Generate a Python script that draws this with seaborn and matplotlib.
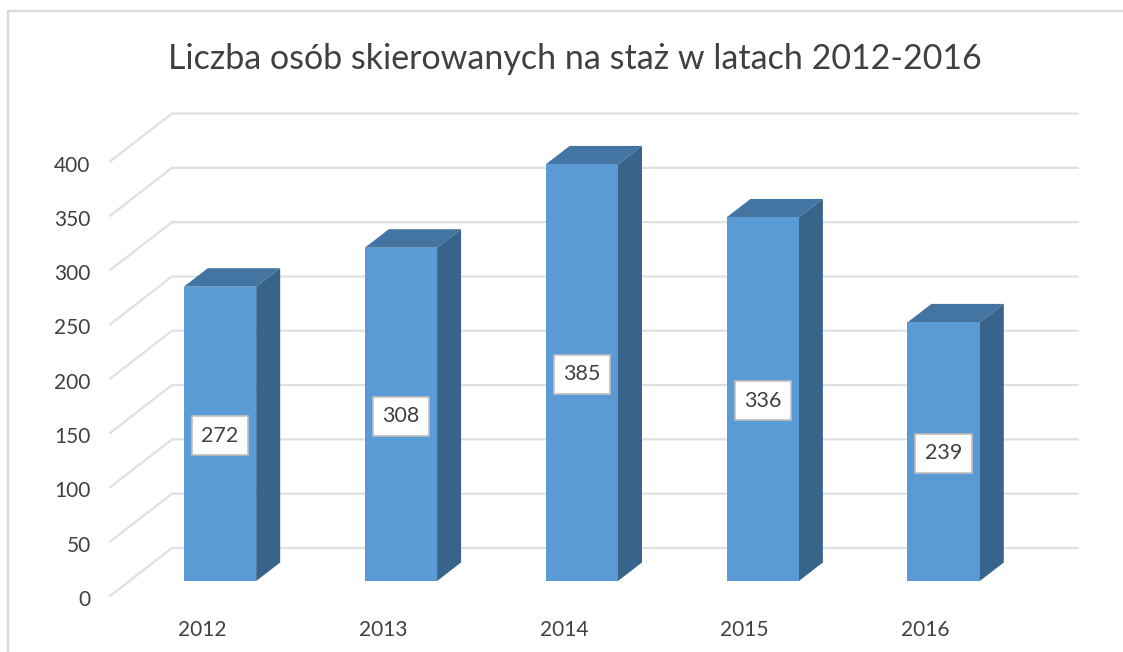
import matplotlib
matplotlib.use("Agg")
import matplotlib.pyplot as plt
from matplotlib.lines import Line2D
from matplotlib.patches import Polygon
from matplotlib.transforms import ScaledTranslation
import seaborn as sns
import pandas as pd

years = ["2012", "2013", "2014", "2015", "2016"]
counts = [272, 308, 385, 336, 239]
y_ticks = [0, 50, 100, 150, 200, 250, 300, 350, 400]
title = "Liczba osób skierowanych na staż w latach 2012-2016"

W, H = 1123, 652
SPACING = 180.9      # px per category
SCALE = 1.0863       # px per unit on the wall
BAR_SCALE = 1.082    # px per unit on the front plane
TXT = "#404040"
GRID = "#E0E0E0"
FRONT = "#5B9BD5"
TOP = "#4475A2"
SIDE = "#38638A"

sns.set_theme(style="white")
plt.rcParams["font.family"] = ["Lato", "DejaVu Sans"]

fig = plt.figure(figsize=(W / 100, H / 100), dpi=100, facecolor="white")

# Scale axes: carries the tick labels and the floor/back wall grid
L, R, B = 110, 1016, 596
ax2 = fig.add_axes([L / W, (H - B) / H, (R - L) / W, 434.5 / H])
ax2.set_xlim((L - 202) / SPACING, (R - 202) / SPACING)
ax2.set_ylim(0, 400)
ax2.set_xticks(range(len(years)), years)
ax2.set_yticks(y_ticks)
ax2.tick_params(axis="y", length=0, pad=14, labelsize=15, labelcolor=TXT)
ax2.tick_params(axis="x", length=0, pad=17, labelsize=15, labelcolor=TXT)
shift = ScaledTranslation(0, -2 / 100, fig.dpi_scale_trans)
for lab in ax2.get_yticklabels():
    lab.set_transform(lab.get_transform() + shift)
for s in ax2.spines.values():
    s.set_visible(False)
ax2.grid(False)
x0 = ax2.get_xlim()[0]
dx_wall = 62 / SPACING
dy_wall = 48 / SCALE
x_end = x0 + (1078 - L) / SPACING
for v in y_ticks:
    ax2.plot([x0, x0 + dx_wall, x_end], [v, v + dy_wall, v + dy_wall],
             color=GRID, lw=1.6, clip_on=False, solid_joinstyle="miter", zorder=1)

# Bar axes: the front plane of the columns
ax = fig.add_axes([0, 0, 1, 1])
ax.patch.set_alpha(0)
df = pd.DataFrame({"rok": years, "liczba": counts})
sns.barplot(data=df, x="rok", y="liczba", color=FRONT, saturation=1, width=0.4,
            ax=ax, linewidth=0, zorder=3)
ax.set_xlim(-220 / SPACING, (W - 220) / SPACING)
ax.set_ylim(-(H - 581) / BAR_SCALE, 581 / BAR_SCALE)
ax.axis("off")

dx = 24 / SPACING
dy = 18.5 / BAR_SCALE
container = ax.containers[0]
for bar in container:
    x1, x2 = bar.get_x(), bar.get_x() + bar.get_width()
    h = bar.get_height()
    ax.add_patch(Polygon([(x1, h), (x2, h), (x2 + dx, h + dy), (x1 + dx, h + dy)],
                         closed=True, fc=TOP, ec="none", zorder=2))
    ax.add_patch(Polygon([(x2, 0), (x2 + dx, dy), (x2 + dx, h + dy), (x2, h)],
                         closed=True, fc=SIDE, ec="none", zorder=2))

labels = ax.bar_label(container, labels=[str(c) for c in counts], label_type="center",
                      fontsize=15.5, color=TXT, zorder=5,
                      bbox=dict(boxstyle="square,pad=0.44", fc="white", ec="#BFBFBF", lw=1.2))
for lab in labels:
    lab.xyann = (0, -1.2)

# Chart frame
frame = dict(color="#D9D9D9", lw=1.6, transform=fig.transFigure)
fig.add_artist(Line2D([8 / W, 8 / W], [0, 1 - 11 / H], **frame))
fig.add_artist(Line2D([8 / W, 1], [1 - 11 / H, 1 - 11 / H], **frame))

fig.suptitle(title, x=574.5 / W, y=1 - 59 / H, va="center", ha="center",
             fontsize=24.5, color=TXT)

fig.savefig("out.png", dpi=100, facecolor="white")
